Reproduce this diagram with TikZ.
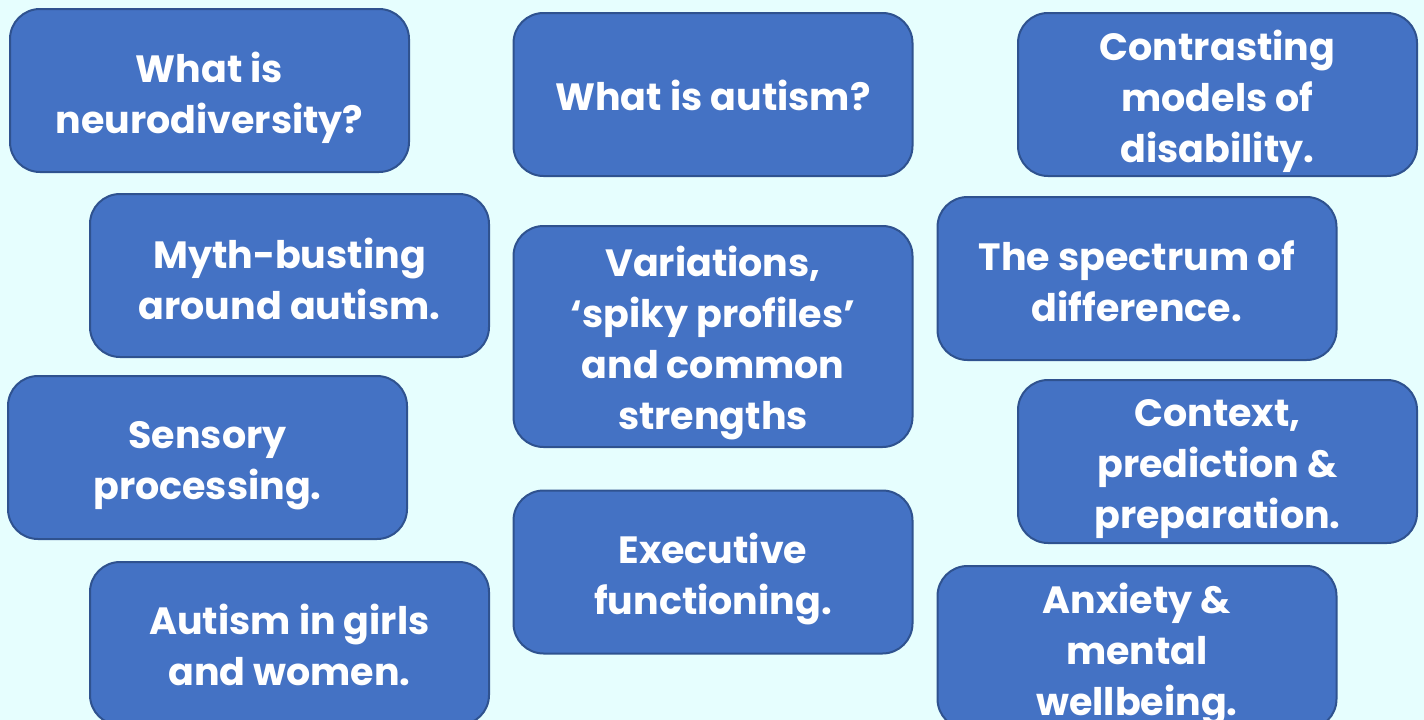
\documentclass[tikz,border=0pt]{standalone}
\usepackage{fontspec}
\setmainfont{Poppins}
\definecolor{bgcol}{HTML}{E6FEFE}
\definecolor{boxfill}{HTML}{4472C4}
\definecolor{boxline}{HTML}{2F528F}
\tikzset{
  topic/.style={draw=boxline, fill=boxfill, line width=2pt, rounded corners=30pt,
    minimum width=399pt, minimum height=163pt, inner sep=0pt},
  topictext/.style={inner sep=0pt, align=center, text=white,
    font=\fontsize{38}{51}\selectfont\bfseries}
}
% #1 height, #2 name, #3 centre, #4 text drop, #5 text
\newcommand{\topicbox}[5][163pt]{%
  \node[topic, minimum height=#1] (#2) at (#3) {};
  \node[topictext] (#2-t) at ([yshift=-#4]#2.center) {#5};
}
\begin{document}
\begin{tikzpicture}[x=1pt,y=-1pt]
\useasboundingbox (0,0) rectangle (1424,720);
\fill[bgcol] (0,0) rectangle (1424,720);
\clip (0,0) rectangle (1424,720);
\topicbox{neuro}{209.5,90.5}{7pt}{What is\\neurodiversity?}
\topicbox{autism}{713,94.5}{1pt}{What is autism?}
\topicbox{models}{1217.5,94.5}{7pt}{Contrasting\\models of\\disability.}
\topicbox{myth}{289.5,275.5}{3pt}{Myth-busting\\around autism.}
\topicbox[221pt]{spiky}{713,336.5}{7pt}{Variations,\\‘spiky profiles’\\and common\\strengths}
\topicbox{spectrum}{1137,278.5}{3pt}{The spectrum of\\difference.}
\topicbox{sensory}{207.5,457.5}{8pt}{Sensory\\processing.}
\topicbox{context}{1217.5,461.5}{8pt}{Context,\\prediction \&\\preparation.}
\topicbox{exec}{713,572}{7pt}{Executive\\functioning.}
\topicbox{girls}{289.5,643.5}{1pt}{Autism in girls\\and women.}
\topicbox{anxiety}{1137,647.5}{7pt}{Anxiety \&\\mental\\wellbeing.}
\end{tikzpicture}
\end{document}
